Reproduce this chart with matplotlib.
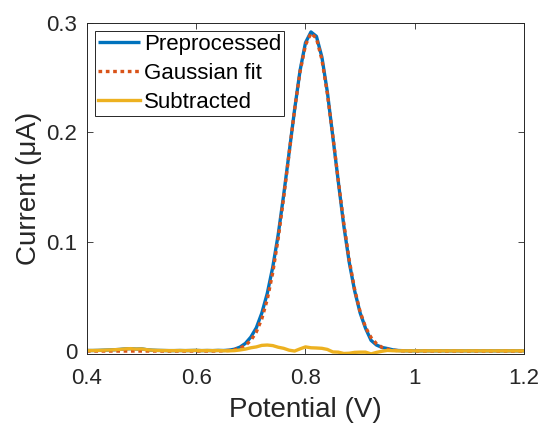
import numpy as np
import matplotlib
matplotlib.use("Agg")
import matplotlib.pyplot as plt

plt.rcParams['font.family'] = ['Liberation Sans', 'DejaVu Sans']

potential = [round(0.40 + 0.01 * i, 2) for i in range(81)]

gaussian_fit = [0.0] * 22 + [
    0.00001, 0.00004, 0.0001, 0.00024, 0.00056, 0.00125, 0.00262, 0.0052,
    0.00979, 0.01746, 0.0295, 0.0472, 0.0716, 0.1029, 0.1401, 0.1806, 0.2206, 0.2553,
    0.2799, 0.2907, 0.2860, 0.2666, 0.2354, 0.1969, 0.1561, 0.1172, 0.0833, 0.0562,
    0.0359, 0.0217, 0.0124, 0.00674, 0.00346, 0.00169, 0.00078, 0.00034, 0.00014, 0.00005,
    0.00002] + [0.0] * 20

subtracted = [
    0.0005, 0.0005, 0.0006, 0.0008, 0.0010, 0.0012, 0.0015, 0.0020, 0.0022, 0.0018,
    0.0020, 0.0012, 0.0008, 0.0006, 0.0005, 0.0004, 0.0004, 0.0005, 0.0004, 0.0005,
    0.0006, 0.0004, 0.0005, 0.0004, 0.0005, 0.0003, 0.0002, 0.0004, 0.0010, 0.0018,
    0.0030, 0.0038, 0.0052, 0.0055, 0.0050, 0.0035, 0.0025, 0.0008, 0.0000, 0.0020,
    0.0038, 0.0030, 0.0028, 0.0025, 0.0015, -0.0008, -0.0010, -0.0022, -0.0020, -0.0012,
    -0.0010, -0.0010, -0.0026, -0.0012, -0.0002, 0.0006, 0.0003] + [0.0002] * 24

preprocessed = [
    0.0005, 0.0005, 0.0006, 0.0008, 0.0010, 0.0012, 0.0015, 0.0020, 0.0022, 0.0018,
    0.0020, 0.0012, 0.0008, 0.0006, 0.0005, 0.0004, 0.0004, 0.0005, 0.0004, 0.0005,
    0.0006, 0.0004, 0.0005, 0.0004, 0.0006, 0.0005, 0.0008, 0.0017, 0.0036, 0.0070,
    0.0128, 0.0213, 0.0347, 0.0527, 0.0766, 0.1064, 0.1426, 0.1814, 0.2206, 0.2565,
    0.2820, 0.2918, 0.2878, 0.2688, 0.2369, 0.1961, 0.1551, 0.1150, 0.0813, 0.0550,
    0.0349, 0.0207, 0.0098, 0.0055, 0.0033, 0.0023, 0.0011, 0.0005, 0.0003] + [0.0002] * 22

x_ticks = [0.4, 0.6, 0.8, 1.0, 1.2]
x_tick_labels = ["0.4", "0.6", "0.8", "1", "1.2"]
y_ticks = [0, 0.1, 0.2, 0.3]
y_tick_labels = ["0", "0.1", "0.2", "0.3"]

fig = plt.figure(figsize=(5.45, 4.29), dpi=100)
ax = fig.add_axes([0.1596, 0.1748, 0.8019, 0.7716])

ax.plot(potential, preprocessed, color='#0072BD', lw=2.4, label='Preprocessed', solid_capstyle='butt')
ax.plot(potential, gaussian_fit, color='#D95319', lw=2.4, ls=(0, (1.1, 1.1)), label='Gaussian fit')
ax.plot(potential, subtracted, color='#EDB120', lw=2.4, label='Subtracted')

ax.set_xlim(0.4, 1.2)
ax.set_ylim(-0.0027, 0.3)
ax.set_xticks(x_ticks)
ax.set_xticklabels(x_tick_labels)
ax.set_yticks(y_ticks)
ax.set_yticklabels(y_tick_labels)

ax.tick_params(direction='in', top=True, right=True, length=4, width=0.6,
               colors='#262626', labelsize=16, labelcolor='#262626')
ax.tick_params(axis='x', pad=10)
ax.tick_params(axis='y', pad=7)
for s in ax.spines.values():
    s.set_color('#262626')
    s.set_linewidth(0.7)

ax.set_xlabel('Potential (V)', fontsize=20, color='#262626', labelpad=6)
ax.set_ylabel('Current (μA)', fontsize=20, color='#262626', labelpad=3)

leg = ax.legend(loc='upper left', fontsize=16, frameon=True, fancybox=False,
                framealpha=1, edgecolor='#262626', handlelength=1.9,
                handletextpad=0.15, borderpad=0.15, labelspacing=0.35,
                borderaxespad=0.35)
leg.get_frame().set_linewidth(0.7)

fig.savefig('out.png', dpi=100)
